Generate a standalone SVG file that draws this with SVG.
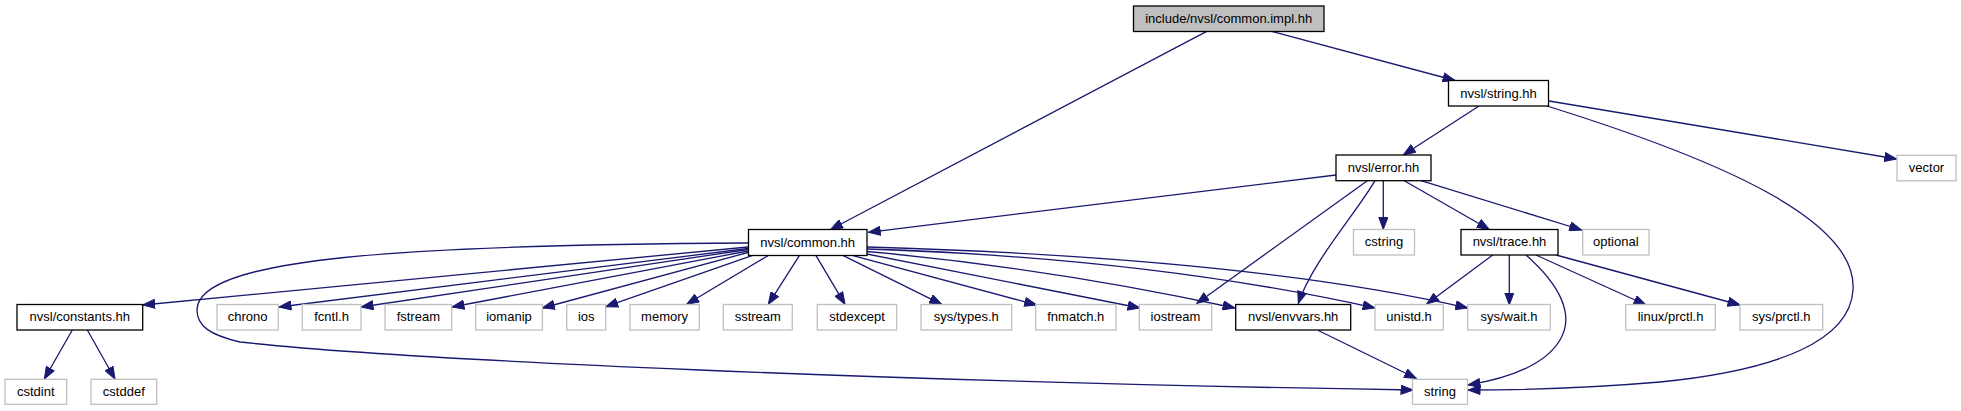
<svg xmlns="http://www.w3.org/2000/svg" width="1961" height="411" viewBox="0 0 1961 411">
<style>
rect{fill:#fff;stroke:#000;stroke-width:1.3}
.g rect{stroke:#bfbfbf}
.root rect{fill:#bfbfbf}
text{font-family:"Liberation Sans",Arial,Helvetica,sans-serif;font-size:13px;text-anchor:middle;fill:#000}
#edges path{fill:none;stroke:#191970;stroke-width:1.3;marker-end:url(#a)}
</style>
<defs>
<marker id="a" markerUnits="userSpaceOnUse" markerWidth="13" markerHeight="10" refX="12.5" refY="5" orient="auto">
<path d="M0.5,0.5 L12.5,5 L0.5,9.5 Z" fill="#191970" stroke="#191970" stroke-width="1"/>
</marker>
</defs>
<rect x="0" y="0" width="1961" height="411" style="fill:#fff;stroke:none"/>
<g id="edges">
<path d="M1206.7,31.3 L830.5,229.5"/>
<path d="M1271.7,31.3 L1455,80.5"/>
<path d="M1479,106 L1403.3,155"/>
<path d="M1549,101 L1896.7,159"/>
<path d="M1547,106 C1720,160 1858,220 1853,290 C1850,340 1780,370 1660,382 C1590,388 1520,390 1468,390"/>
<path d="M1336,175 L868.3,232.3"/>
<path d="M1367.3,180.7 L1196.7,303.5"/>
<path d="M1375,180.7 C1355,215 1312,262 1298.3,303.5"/>
<path d="M1383.3,180.7 L1383.3,229.5"/>
<path d="M1404.3,180.7 L1489.3,229.5"/>
<path d="M1421,180.7 L1581.7,230"/>
<path d="M1492.7,255 L1426.7,304"/>
<path d="M1509.3,255 L1509.3,305"/>
<path d="M1526,255 C1560,285 1575,315 1560,340 C1545,365 1510,378 1468,385"/>
<path d="M1536,255 L1646,305"/>
<path d="M1556,255 L1740,305"/>
<path d="M1318.3,330.5 L1416.5,378.5"/>
<path d="M72.3,330 L44.3,379"/>
<path d="M87.3,330 L115,379"/>
<path d="M748,247 L142.7,305"/>
<path d="M748,248.5 L279,307"/>
<path d="M748,249.5 L361,307"/>
<path d="M748,251 L452,307"/>
<path d="M748,252.5 L542.4,308"/>
<path d="M752,255.7 L605.7,306.7"/>
<path d="M768,255.7 L686.7,304.3"/>
<path d="M799.3,255.7 L768.3,304.3"/>
<path d="M816,255.7 L845,304.3"/>
<path d="M843.3,255.7 L941.7,304.3"/>
<path d="M853,255.7 L1036.7,305"/>
<path d="M867,254 L1140,308"/>
<path d="M867,251.5 Q1050,268 1235,308"/>
<path d="M867,249 Q1150,258 1375,308"/>
<path d="M867,247 Q1250,258 1467.7,308"/>
<path d="M748,243 C400,245 197,258 197,310 C197,326 210,335 240,342 C400,360 900,382 1413,390"/>
</g>
<g id="n_impl" class="root"><rect x="1133.5" y="6" width="190.5" height="25.5"/><text x="1228.7" y="23">include/nvsl/common.impl.hh</text></g>
<g id="n_stringhh"><rect x="1448.5" y="80.5" width="100" height="25.5"/><text x="1498.5" y="97.5">nvsl/string.hh</text></g>
<g id="n_error"><rect x="1336" y="155" width="95" height="25.7"/><text x="1383.5" y="172">nvsl/error.hh</text></g>
<g id="n_vector" class="g"><rect x="1897" y="155.3" width="59" height="25.5"/><text x="1926.5" y="172.2">vector</text></g>
<g id="n_common"><rect x="748.5" y="229.5" width="118.5" height="26"/><text x="807.7" y="246.5">nvsl/common.hh</text></g>
<g id="n_cstring" class="g"><rect x="1353.5" y="229.5" width="61" height="25.5"/><text x="1384" y="246.3">cstring</text></g>
<g id="n_trace"><rect x="1461" y="229.5" width="97" height="25.5"/><text x="1509.5" y="246.3">nvsl/trace.hh</text></g>
<g id="n_optional" class="g"><rect x="1582.7" y="229.5" width="66.3" height="25.5"/><text x="1615.8" y="246.3">optional</text></g>
<g id="n_constants"><rect x="17" y="304.5" width="125.7" height="25.5"/><text x="79.8" y="321.3">nvsl/constants.hh</text></g>
<g id="n_chrono" class="g"><rect x="217" y="304.5" width="61.3" height="25.5"/><text x="247.6" y="321.3">chrono</text></g>
<g id="n_fcntl" class="g"><rect x="302.3" y="304.5" width="58.7" height="25.5"/><text x="331.6" y="321.3">fcntl.h</text></g>
<g id="n_fstream" class="g"><rect x="385" y="304.5" width="66.7" height="25.5"/><text x="418.3" y="321.3">fstream</text></g>
<g id="n_iomanip" class="g"><rect x="475.7" y="304.5" width="66.7" height="25.5"/><text x="509" y="321.3">iomanip</text></g>
<g id="n_ios" class="g"><rect x="566.7" y="304.5" width="39" height="25.5"/><text x="586.2" y="321.3">ios</text></g>
<g id="n_memory" class="g"><rect x="630" y="304.5" width="69.3" height="25.5"/><text x="664.6" y="321.3">memory</text></g>
<g id="n_sstream" class="g"><rect x="723.3" y="304.5" width="69" height="25.5"/><text x="757.8" y="321.3">sstream</text></g>
<g id="n_stdexcept" class="g"><rect x="817.3" y="304.5" width="79.4" height="25.5"/><text x="857" y="321.3">stdexcept</text></g>
<g id="n_systypes" class="g"><rect x="921" y="304.5" width="90.7" height="25.5"/><text x="966.3" y="321.3">sys/types.h</text></g>
<g id="n_fnmatch" class="g"><rect x="1035.7" y="304.5" width="80.3" height="25.5"/><text x="1075.8" y="321.3">fnmatch.h</text></g>
<g id="n_iostream" class="g"><rect x="1139.3" y="304.5" width="72.4" height="25.5"/><text x="1175.5" y="321.3">iostream</text></g>
<g id="n_envvars"><rect x="1235.7" y="304.5" width="115" height="25.5"/><text x="1293.2" y="321.3">nvsl/envvars.hh</text></g>
<g id="n_unistd" class="g"><rect x="1375" y="304.5" width="68.3" height="25.5"/><text x="1409.1" y="321.3">unistd.h</text></g>
<g id="n_syswait" class="g"><rect x="1467.7" y="304.5" width="82.6" height="25.5"/><text x="1509" y="321.3">sys/wait.h</text></g>
<g id="n_linuxprctl" class="g"><rect x="1625.7" y="304.5" width="89.6" height="25.5"/><text x="1670.5" y="321.3">linux/prctl.h</text></g>
<g id="n_sysprctl" class="g"><rect x="1740" y="304.5" width="82.7" height="25.5"/><text x="1781.3" y="321.3">sys/prctl.h</text></g>
<g id="n_cstdint" class="g"><rect x="5" y="379.3" width="61.7" height="25"/><text x="35.8" y="396">cstdint</text></g>
<g id="n_cstddef" class="g"><rect x="91" y="379.3" width="65.7" height="25"/><text x="123.8" y="396">cstddef</text></g>
<g id="n_string" class="g"><rect x="1412.5" y="379.3" width="55" height="25"/><text x="1440" y="396">string</text></g>
</svg>
